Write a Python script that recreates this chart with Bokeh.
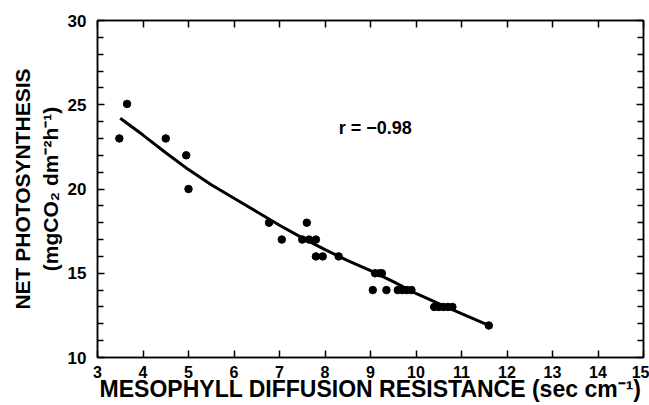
from bokeh.plotting import figure
from bokeh.models import LinearAxis, FixedTicker, Label, ColumnDataSource
from bokeh.embed import file_html
from bokeh.resources import INLINE

# --- data ---
resistance = [3.48, 3.65, 4.5, 4.95, 5.0, 6.77, 7.6, 7.05, 7.5, 7.65, 7.8,
              7.8, 7.95, 8.3, 9.1, 9.2, 9.25, 9.05, 9.35, 9.6, 9.7, 9.8, 9.9,
              10.4, 10.5, 10.6, 10.7, 10.8, 11.6]
photosynthesis = [23, 25.05, 23, 22, 20, 18, 18, 17, 17, 17, 17,
                  16, 16, 16, 15, 15, 15, 14, 14, 14, 14, 14, 14,
                  13, 13, 13, 13, 13, 11.9]

fit_x = [3.5, 4.0, 4.5, 5.0, 5.5, 6.0, 6.5, 7.0, 7.5, 8.0, 8.5, 9.0, 9.5,
         10.0, 10.5, 11.0, 11.6]
fit_y = [24.2, 23.2, 22.15, 21.15, 20.25, 19.45, 18.65, 17.85, 17.1, 16.4,
         15.75, 15.15, 14.5, 13.8, 13.2, 12.6, 11.9]

x_ticks = list(range(3, 16))
y_major = [10, 15, 20, 25, 30]
y_minor = [v for v in range(10, 31) if v % 5]

annotation = "r = \u22120.98"
x_title = "MESOPHYLL DIFFUSION RESISTANCE (sec cm\u207b\u00b9)"
y_title = "NET PHOTOSYNTHESIS\n(mgCO\u2082 dm\u207b\u00b2h\u207b\u00b9)"

FONT = "Liberation Sans"

p = figure(width=649, height=405, x_range=(3, 15), y_range=(10, 30),
           output_backend="svg", toolbar_location=None,
           min_border_left=97, min_border_top=20, min_border_right=6,
           min_border_bottom=48)
p.xgrid.visible = False
p.ygrid.visible = False
p.outline_line_color = "black"
p.outline_line_width = 1.5

def style_axis(ax, ticks, minor=None):
    ax.ticker = FixedTicker(ticks=ticks, minor_ticks=minor or [])
    ax.axis_line_color = "black"
    ax.axis_line_width = 1.5
    ax.major_tick_out = 0
    ax.major_tick_in = 7
    ax.minor_tick_out = 0
    ax.minor_tick_in = 6
    ax.major_tick_line_width = 1.5
    ax.minor_tick_line_width = 1.5
    ax.major_label_text_font = FONT
    ax.major_label_text_font_style = "bold"
    ax.major_label_text_font_size = "16px"
    ax.major_label_text_color = "black"
    ax.axis_label_text_font = FONT
    ax.axis_label_text_font_style = "bold"
    ax.axis_label_text_color = "black"

xa = p.xaxis[0]
style_axis(xa, x_ticks)
xa.axis_label = x_title
xa.axis_label_text_font_size = "23px"
xa.major_label_standoff = 8
xa.axis_label_standoff = -5

ya = p.yaxis[0]
style_axis(ya, y_major, y_minor)
ya.major_label_text_font_size = "17px"
ya.axis_label = y_title
ya.axis_label_text_font_size = "21px"
ya.major_label_standoff = 11
ya.axis_label_standoff = 3

top = LinearAxis()
style_axis(top, x_ticks)
top.major_label_text_font_size = "0px"
top.major_label_standoff = 0
p.add_layout(top, "above")

right = LinearAxis()
style_axis(right, y_major, y_minor)
right.major_label_text_font_size = "0px"
right.major_label_standoff = 0
p.add_layout(right, "right")

src = ColumnDataSource(dict(x=resistance, y=photosynthesis))
p.line(fit_x, fit_y, line_color="black", line_width=3)
p.scatter("x", "y", source=src, size=7.5, fill_color="black", line_color="black")

p.add_layout(Label(x=8.3, y=23.6, text=annotation, text_font=FONT,
                   text_font_style="bold", text_font_size="18px",
                   text_baseline="middle", text_color="black"))

open("out.html", "w").write(file_html(p, INLINE))
